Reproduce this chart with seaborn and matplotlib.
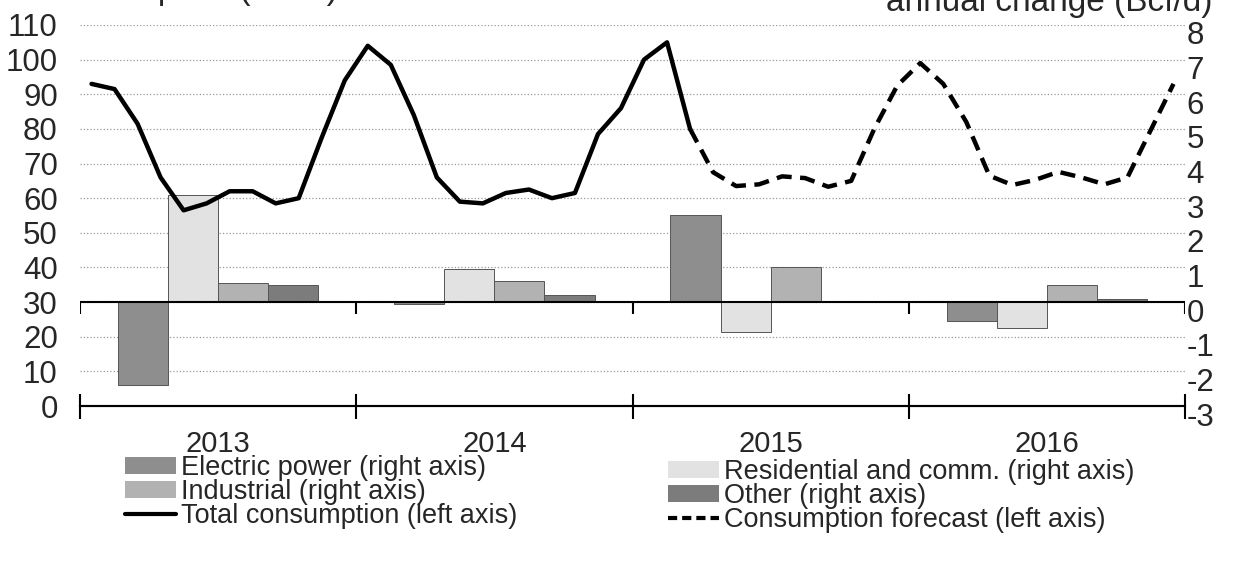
import pandas as pd
import seaborn as sns
import matplotlib.pyplot as plt
from matplotlib.patches import Patch
from matplotlib.lines import Line2D
from matplotlib.transforms import ScaledTranslation

years = ['2013', '2014', '2015', '2016']
sectors = ['Electric power', 'Residential and comm.', 'Industrial', 'Other']

# monthly total consumption, Bcf/d (left axis), Jan 2013 - Mar 2015
total_hist = [93, 91.5, 81.5, 66, 56.5, 58.5, 62, 62, 58.5, 60, 77.5, 94,
              104, 98.5, 84, 66, 59, 58.5, 61.5, 62.5, 60, 61.5, 78.5, 86,
              100, 105, 80]
# forecast, Mar 2015 - Dec 2016
total_fcst = [80, 67.5, 63.5, 64, 66.3, 65.8, 63.3, 65, 80, 92.5,
              99, 93, 82, 66.5, 63.8, 65.3, 67.6, 66, 64, 66, 79.5, 93]

# annual change by sector, Bcf/d (right axis)
electric = [-2.4, -0.05, 2.5, -0.55]
residential = [3.1, 0.95, -0.85, -0.75]
industrial = [0.55, 0.6, 1.0, 0.5]
other = [0.5, 0.2, 0.03, 0.1]

colors = {'Electric power': '#8e8e8e', 'Residential and comm.': '#e2e2e2',
          'Industrial': '#b2b2b2', 'Other': '#7c7c7c'}

# month i is drawn at i + 0.5, years span 12 units
hist = pd.DataFrame({'x': [i + 0.5 for i in range(len(total_hist))], 'y': total_hist})
start = len(total_hist) - 1
fcst = pd.DataFrame({'x': [start + i + 0.5 for i in range(len(total_fcst))], 'y': total_fcst})

bars = pd.DataFrame({
    'x': [12 * k + 6 for k in range(len(years))] * 4,
    'sector': sum([[s] * len(years) for s in sectors], []),
    'value': electric + residential + industrial + other,
})

sns.set_style('white')
plt.rcParams['font.family'] = ['Liberation Sans', 'DejaVu Sans']
plt.rcParams['axes.unicode_minus'] = False

fig = plt.figure(figsize=(12.41, 5.67), dpi=100)
ax = fig.add_axes([80 / 1241, 1 - 406 / 567, 1105 / 1241, 381 / 567])
ax2 = ax.twinx()

# bars on the right axis
ax2.grid(axis='y', ls=':', color='#9a9a9a', lw=0.9)
ax2.set_axisbelow(True)
sns.barplot(data=bars, x='x', y='value', hue='sector', hue_order=sectors,
            palette=colors, native_scale=True, width=0.725, errorbar=None,
            edgecolor='#555555', linewidth=0.7, legend=False, ax=ax2)
ax2.set_ylim(-3, 8)
ax2.set_yticks(range(-3, 9))
ax2.axhline(0, color='black', lw=1.5, zorder=3)
bounds = [12 * k for k in range(len(years) + 1)]
ax2.vlines(bounds, -0.33, 0, color='black', lw=1.5, zorder=3)
ax2.set_xlabel('')
ax2.set_ylabel('')
for s in ax2.spines.values():
    s.set_visible(False)
ax2.tick_params(axis='y', length=0, pad=1, labelsize=22.5)
# the scan is slightly tilted: right labels sit a bit lower
shift = ScaledTranslation(0, -0.08, fig.dpi_scale_trans)
for lbl in ax2.get_yticklabels():
    lbl.set_transform(lbl.get_transform() + shift)

# lines on the left axis, drawn above the bars
ax.set_zorder(ax2.get_zorder() + 1)
ax.patch.set_visible(False)
sns.lineplot(data=hist, x='x', y='y', color='black', lw=3.2, ax=ax)
sns.lineplot(data=fcst, x='x', y='y', color='black', lw=3.2,
             linestyle=(0, (3.4, 1.9)), ax=ax)
ax.set_ylim(0, 110)
ax.set_yticks(range(0, 111, 10))
ax.set_xlim(0, 48)
ax.set_xlabel('')
ax.set_ylabel('')
for side in ['left', 'right', 'top']:
    ax.spines[side].set_visible(False)
ax.spines['bottom'].set_color('black')
ax.spines['bottom'].set_linewidth(1.5)
ax.tick_params(axis='y', length=0, pad=16, labelsize=22.5)

ax.set_xticks([12 * k + 6 for k in range(len(years))], labels=years)
ax.set_xticks(range(0, 49), minor=True)
ax.tick_params(axis='x', which='major', length=0, pad=17, labelsize=21)
ax.tick_params(axis='x', which='minor', direction='out', length=6,
               width=1.2, color='black')
sec = ax.secondary_xaxis('bottom')
sec.set_xticks(bounds, labels=[''] * len(bounds))
sec.tick_params(direction='inout', length=18, width=1.5, color='black')
sec.spines['bottom'].set_linewidth(1.5)

# axis titles, cut at the top edge as in the scan
fig.text(338 / 1241, 1 + 1 / 567, 'consumption (Bcf/d)',
         fontsize=24, va='baseline', ha='right')
fig.text(1213 / 1241, 1 - 11 / 567, 'annual change (Bcf/d)',
         fontsize=24, va='baseline', ha='right')

h1 = [Patch(facecolor=colors['Electric power'], edgecolor='none'),
      Patch(facecolor=colors['Industrial'], edgecolor='none'),
      Line2D([], [], color='black', lw=3)]
l1 = ['Electric power (right axis)', 'Industrial (right axis)',
      'Total consumption (left axis)']
h2 = [Patch(facecolor=colors['Residential and comm.'], edgecolor='none'),
      Patch(facecolor=colors['Other'], edgecolor='none'),
      Line2D([], [], color='black', lw=3, linestyle=(0, (2.2, 1.2)))]
l2 = ['Residential and comm. (right axis)', 'Other (right axis)',
      'Consumption forecast (left axis)']
for h, l, x0, y0 in [(h1, l1, 125, 455), (h2, l2, 668, 459)]:
    fig.legend(h, l, loc='upper left', bbox_to_anchor=(x0 / 1241, 1 - y0 / 567),
               frameon=False, fontsize=19.5, borderpad=0, borderaxespad=0,
               handlelength=1.9, handleheight=0.6, handletextpad=0.15,
               labelspacing=-0.08)

fig.savefig('out.png', dpi=100)
